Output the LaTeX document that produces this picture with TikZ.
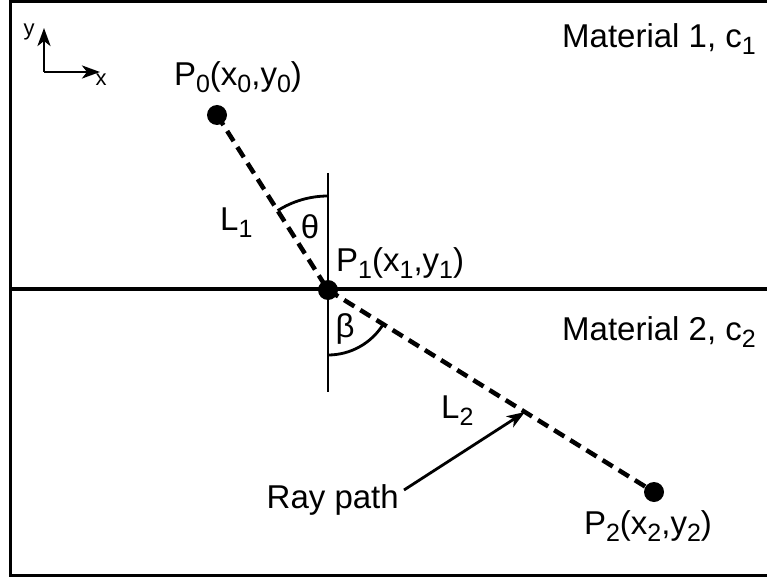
\documentclass[tikz,border=0pt]{standalone}
\usepackage{fontspec}
\setmainfont{Liberation Sans}
\usetikzlibrary{arrows.meta,calc}
\newcommand{\sbs}[1]{\raisebox{-7pt}{\fontsize{25}{27}\selectfont #1}}
\begin{document}
\begin{tikzpicture}[x=1pt,y=-1pt,
  lbl/.style={inner sep=0pt,font=\fontsize{33}{38}\selectfont},
  small/.style={inner sep=0pt,font=\fontsize{22}{24}\selectfont},
  dot/.style={circle,fill=black,minimum size=20pt,inner sep=0pt},
  ray/.style={line width=4.5pt,dash pattern=on 12pt off 7pt},
  thin/.style={line width=2.8pt},
  arr/.style={line width=2.8pt,-{Stealth[length=18pt,width=13pt,inset=5pt]}}]
\useasboundingbox (0,0) rectangle (767,577);
% frame
\draw[line width=3pt] (771,2) -- (10,2) -- (10,575) -- (771,575);
% interface
\draw[line width=3.2pt] (10,289) -- (771,289);
% normal
\coordinate (nt) at (328,173);
\coordinate (nb) at (328,392);
\draw[thin] (nt) -- (nb);
% points
\node[dot] (P0) at (217,115) {};
\node[dot] (P1) at (328,290) {};
\node[dot] (P2) at (654,492) {};
\draw[ray] (P0.center) -- (P1.center);
\draw[ray] (P1.center) -- (P2.center);
% angles
\draw[thin] (328,196) arc[start angle=-90,end angle=-122.4,radius=94];
\draw[thin] (328,355) arc[start angle=90,end angle=31.8,radius=65];
% axes
\coordinate (ax) at (44,72);
\coordinate (ay) at (44,28);
\coordinate (axx) at (100,72);
\draw[arr] (ax) -- (ay);
\draw[arr] (ax) -- (axx);
\node[small] (ylab) at (29,32) {y};
\node[small] (xlab) at (101,80) {x};
% labels
\node[lbl,anchor=base] (P0l) at (238,86) {P\sbs{0}(x\sbs{0},y\sbs{0})};
\node[lbl,anchor=base west] (m1) at (562,48) {Material 1, c\sbs{1}};
\node[lbl,anchor=base west] (m2) at (562,340) {Material 2, c\sbs{2}};
\node[lbl,anchor=base west] (L1) at (220,230) {L\sbs{1}};
\node[lbl] (th) at (310,227) {θ};
\node[lbl,anchor=base west] (P1l) at (336,271) {P\sbs{1}(x\sbs{1},y\sbs{1})};
\node[lbl] (be) at (345,329) {β};
\node[lbl,anchor=base west] (L2) at (441,418) {L\sbs{2}};
\node[lbl,anchor=east] (rp) at (399,500) {Ray path};
\node[lbl,anchor=base] (P2l) at (648,534) {P\sbs{2}(x\sbs{2},y\sbs{2})};
\coordinate (hit) at ($(P1)!0.604!(P2)$);
\draw[arr] (404,490) -- (hit);
\end{tikzpicture}
\end{document}
